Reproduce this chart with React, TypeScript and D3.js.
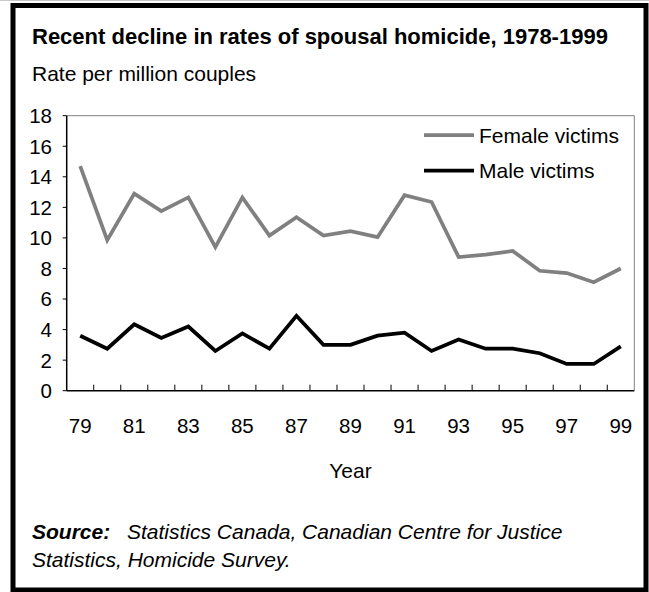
import React from "react";
import * as d3 from "d3";

const years = ["79","80","81","82","83","84","85","86","87","88","89","90","91","92","93","94","95","96","97","98","99"];
const female = [14.7, 9.85, 12.9, 11.75, 12.65, 9.4, 12.65, 10.15, 11.35, 10.15, 10.45, 10.05, 12.8, 12.35, 8.75, 8.9, 9.15, 7.85, 7.7, 7.1, 8.0];
const male = [3.6, 2.75, 4.35, 3.45, 4.2, 2.6, 3.75, 2.75, 4.9, 3.0, 3.0, 3.6, 3.8, 2.6, 3.35, 2.75, 2.75, 2.45, 1.75, 1.75, 2.9];
const yTicks = [0, 2, 4, 6, 8, 10, 12, 14, 16, 18];
const xLabels = ["79","81","83","85","87","89","91","93","95","97","99"];
const seriesNames = ["Female victims", "Male victims"];
const title = "Recent decline in rates of spousal homicide, 1978-1999";
const subtitle = "Rate per million couples";
const xTitle = "Year";
const sourceLabel = "Source:";
const sourceLine1 = "Statistics Canada, Canadian Centre for Justice";
const sourceLine2 = "Statistics, Homicide Survey.";

const W = 649, H = 592;
const L = 66.7, R = 634.3, T = 115.7, B = 390.7;
const FONT = "'Liberation Sans', Arial, sans-serif";

export default function App() {
  const x = d3.scaleBand<string>().domain(years).range([L, R]).padding(0);
  const y = d3.scaleLinear().domain([0, 18]).range([B, T]);
  const cx = (d: string) => (x(d) as number) + x.bandwidth() / 2;
  const line = d3.line<number>().x((_, i) => cx(years[i])).y((v) => y(v));
  const colors = ["#808080", "#000000"];
  const boundaries = years.map((d) => x(d) as number).slice(1);

  return (
    <svg width={W} height={H} style={{ position: "fixed", left: 0, top: 0, background: "#fff" }} fontFamily={FONT}>
      <line x1={0} x2={W} y1={0.5} y2={0.5} stroke="#c8c8c8" strokeWidth={1} />
      <rect x={13} y={5.5} width={633} height={584.5} fill="#fff" stroke="#000" strokeWidth={5} />
      <text x={32} y={44} fontSize={22} fontWeight="bold" fill="#000">{title}</text>
      <text x={32} y={81} fontSize={21} fill="#000">{subtitle}</text>

      {/* plot frame top/right */}
      <line x1={L} x2={R} y1={T} y2={T} stroke="#808080" strokeWidth={1} />
      <line x1={R} x2={R} y1={T} y2={B} stroke="#808080" strokeWidth={1} />

      {/* y axis */}
      <line x1={L} x2={L} y1={T} y2={B} stroke="#000" strokeWidth={1.5} />
      {yTicks.map((t) => (
        <g key={t}>
          <line x1={L - 4} x2={L} y1={y(t)} y2={y(t)} stroke="#000" strokeWidth={1} />
          <text x={52} y={y(t)} dy="0.36em" textAnchor="end" fontSize={20.5}>{t}</text>
        </g>
      ))}

      {/* x axis */}
      <line x1={L} x2={R} y1={B} y2={B} stroke="#000" strokeWidth={1.5} />
      {boundaries.map((b, i) => (
        <line key={i} x1={b} x2={b} y1={B} y2={B - 6} stroke="#000" strokeWidth={1} />
      ))}
      {xLabels.map((l) => (
        <text key={l} x={cx(l)} y={432.5} textAnchor="middle" fontSize={20.5}>{l}</text>
      ))}
      <text x={(L + R) / 2} y={478} textAnchor="middle" fontSize={21}>{xTitle}</text>

      {/* series */}
      {[female, male].map((s, i) => (
        <path key={i} d={line(s) as string} fill="none" stroke={colors[i]} strokeWidth={3.75} strokeLinejoin="miter" />
      ))}

      {/* legend */}
      {seriesNames.map((n, i) => (
        <g key={n}>
          <line x1={424} x2={474} y1={135 + i * 35.7} y2={135 + i * 35.7} stroke={colors[i]} strokeWidth={3.75} />
          <text x={479} y={135 + i * 35.7} dy="0.36em" fontSize={21}>{n}</text>
        </g>
      ))}

      {/* source */}
      <text x={32} y={539} fontSize={21} fontWeight="bold" fontStyle="italic">{sourceLabel}</text>
      <text x={127} y={539} fontSize={21} fontStyle="italic">{sourceLine1}</text>
      <text x={32} y={567} fontSize={21} fontStyle="italic">{sourceLine2}</text>
    </svg>
  );
}
